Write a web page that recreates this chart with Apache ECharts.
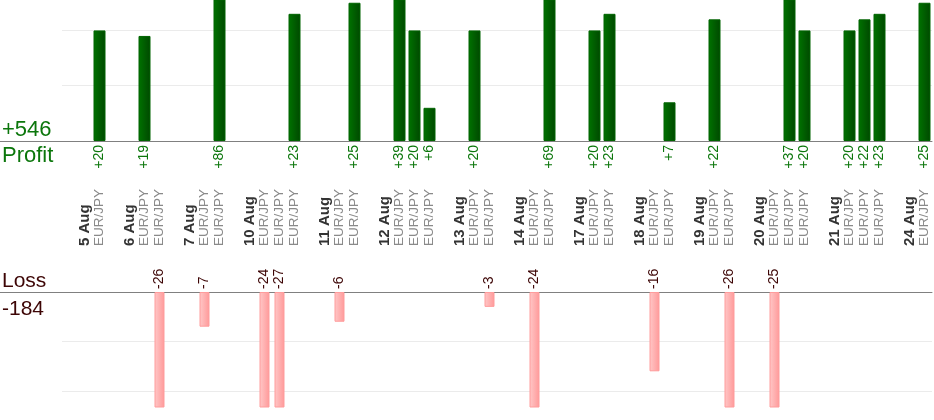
<!DOCTYPE html>
<html>
<head>
<meta charset="utf-8">
<script src="https://cdn.jsdelivr.net/npm/echarts@6/dist/echarts.min.js"></script>
<style>
  html, body { margin: 0; padding: 0; background: #fff; }
  #chart { width: 934px; height: 420px; }
</style>
</head>
<body>
<div id="chart"></div>
<script>
// trading days and how many trades each one had
var days = ['5 Aug', '6 Aug', '7 Aug', '10 Aug', '11 Aug', '12 Aug', '13 Aug',
            '14 Aug', '17 Aug', '18 Aug', '19 Aug', '20 Aug', '21 Aug', '24 Aug'];
var tradesPerDay = [1, 2, 2, 3, 2, 3, 2, 2, 2, 2, 2, 3, 3, 1];
var pair = 'EUR/JPY';
// result of every trade, in order (pips)
var results = [20, 19, -26, -7, 86, -24, -27, 23, -6, 25, 39, 20, 6, 20, -3,
               -24, 69, 20, 23, -16, 7, 22, -26, -25, 37, 20, 20, 22, 23, 25];

var FONT = '"Liberation Sans", Arial, sans-serif';
var GREEN = '#0b760b';
var MAROON = '#3d0505';

// one slot per date label and per trade, an empty slot between days
var tickLabels = [''];
var profit = ['-'];
var loss = ['-'];
var k = 0;
days.forEach(function (day, i) {
    tickLabels.push(day); profit.push('-'); loss.push('-');
    for (var j = 0; j < tradesPerDay[i]; j++, k++) {
        var r = results[k];
        tickLabels.push(pair);
        profit.push(r > 0 ? r : '-');
        loss.push(r < 0 ? -r : '-');
    }
    if (i < days.length - 1) { tickLabels.push(''); profit.push('-'); loss.push('-'); }
});
var totalProfit = results.filter(function (v) { return v > 0; }).reduce(function (a, b) { return a + b; }, 0);
var totalLoss = results.filter(function (v) { return v < 0; }).reduce(function (a, b) { return a + b; }, 0);

var chart = echarts.init(document.getElementById('chart'));
chart.setOption({
    animation: false,
    textStyle: { fontFamily: FONT },
    grid: [
        { left: 62, right: 2, top: 0, height: 141, outerBoundsMode: 'none' },
        { left: 62, right: 2, top: 292, height: 115, outerBoundsMode: 'none' }
    ],
    xAxis: [{
        type: 'category', gridIndex: 0, data: tickLabels, position: 'bottom',
        axisLine: { lineStyle: { color: '#808080', width: 1 } },
        axisTick: { show: false }, axisLabel: { show: false }, splitLine: { show: false }
    }, {
        type: 'category', gridIndex: 1, data: tickLabels, position: 'top',
        axisLine: { lineStyle: { color: '#808080', width: 1 } },
        axisTick: { show: false }, splitLine: { show: false },
        axisLabel: {
            interval: 0, rotate: 90, margin: 46,
            formatter: function (value, idx) {
                if (!value) return '';
                return value === pair ? '{p|' + value + '}' : '{d|' + value + '}';
            },
            rich: {
                d: { fontFamily: FONT, fontSize: 15, fontWeight: 'bold', color: '#333333' },
                p: { fontFamily: FONT, fontSize: 13.5, color: '#8a8a8a' }
            }
        }
    }],
    yAxis: [{
        type: 'value', gridIndex: 0, min: 0, max: 25.5, interval: 10,
        axisLine: { show: false }, axisTick: { show: false }, axisLabel: { show: false },
        splitLine: { showMaxLine: false, lineStyle: { color: '#ebebeb' } }
    }, {
        type: 'value', gridIndex: 1, min: 0, max: 23.2, interval: 10, inverse: true,
        axisLine: { show: false }, axisTick: { show: false }, axisLabel: { show: false },
        splitLine: { showMaxLine: false, lineStyle: { color: '#ebebeb' } }
    }],
    series: [{
        type: 'bar', xAxisIndex: 0, yAxisIndex: 0, data: profit, barWidth: 12,
        itemStyle: {
            color: new echarts.graphic.LinearGradient(0, 0, 1, 0, [
                { offset: 0, color: '#007300' }, { offset: 1, color: '#004800' }
            ]),
            borderColor: '#006400', borderWidth: 1
        },
        label: {
            show: true, position: 'bottom', distance: 4, rotate: 90,
            align: 'right', verticalAlign: 'middle',
            fontFamily: FONT, fontSize: 14, color: GREEN,
            formatter: function (p) { return '+' + p.value; }
        }
    }, {
        type: 'bar', xAxisIndex: 1, yAxisIndex: 1, data: loss, barWidth: 10,
        itemStyle: {
            color: new echarts.graphic.LinearGradient(0, 0, 1, 0, [
                { offset: 0, color: '#ffc8c8' }, { offset: 1, color: '#ff9999' }
            ]),
            borderColor: '#ff9c9c', borderWidth: 1
        },
        label: {
            show: true, position: 'top', distance: 3, rotate: 90,
            align: 'left', verticalAlign: 'middle',
            fontFamily: FONT, fontSize: 14, color: MAROON,
            formatter: function (p) { return '-' + p.value; }
        }
    }],
    graphic: [
        { type: 'line', shape: { x1: 0, y1: 141.5, x2: 63, y2: 141.5 }, style: { stroke: '#808080', lineWidth: 1 } },
        { type: 'line', shape: { x1: 0, y1: 292.5, x2: 63, y2: 292.5 }, style: { stroke: '#808080', lineWidth: 1 } },
        { type: 'text', left: 2, top: 119, style: { text: '+' + totalProfit, font: '22px ' + FONT, fill: GREEN } },
        { type: 'text', left: 2, top: 145, style: { text: 'Profit', font: '22px ' + FONT, fill: GREEN } },
        { type: 'text', left: 2, top: 271, style: { text: 'Loss', font: '21px ' + FONT, fill: MAROON } },
        { type: 'text', left: 2, top: 299, style: { text: String(totalLoss), font: '21px ' + FONT, fill: MAROON } }
    ]
});
</script>
</body>
</html>
